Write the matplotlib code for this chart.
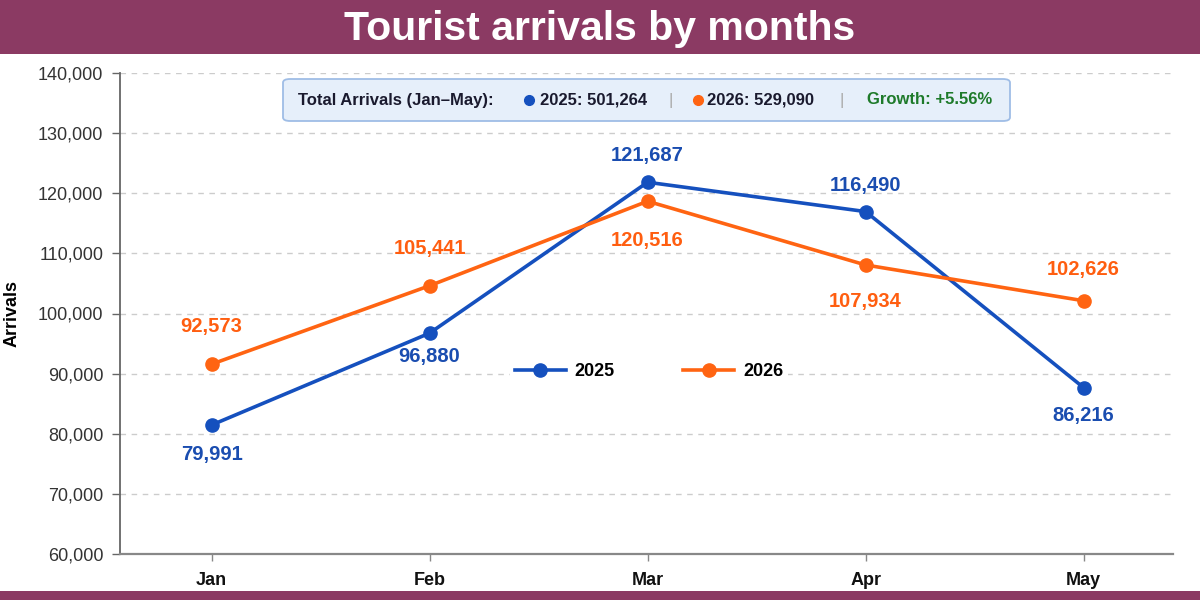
import matplotlib
matplotlib.use("Agg")
import matplotlib.pyplot as plt
from matplotlib import font_manager
from matplotlib.patches import FancyBboxPatch, Rectangle
from matplotlib.lines import Line2D

# ---------------- data ----------------
months = ["Jan", "Feb", "Mar", "Apr", "May"]
values_2025 = [81450, 96730, 121830, 116950, 87670]      # drawn point positions
values_2026 = [91570, 104620, 118670, 108070, 102120]
labels_2025 = [79991, 96880, 121687, 116490, 86216]      # printed data labels
labels_2026 = [92573, 105441, 120516, 107934, 102626]
yticks = [60000, 70000, 80000, 90000, 100000, 110000, 120000, 130000, 140000]
total_2025 = 501264
total_2026 = 529090
growth_pct = 5.56
title = "Tourist arrivals by months"

# ---------------- style ----------------
names = {f.name for f in font_manager.fontManager.ttflist}
NARROW = "Liberation Sans Narrow" if "Liberation Sans Narrow" in names else "Liberation Sans"
SANS = "Liberation Sans"
plt.rcParams["font.family"] = [SANS, "DejaVu Sans"]

PURPLE = "#8B3A63"
BLUE = "#1550BE"
ORANGE = "#FF6412"
BLUE_TXT = "#1A4DB0"
ORANGE_TXT = "#FF5E10"

fig = plt.figure(figsize=(12, 6), dpi=100)
fig.patch.set_facecolor("white")

# header / footer bands
fig.add_artist(Rectangle((0, 1 - 54 / 600), 1, 54 / 600, transform=fig.transFigure,
                         facecolor=PURPLE, edgecolor="none", zorder=0))
fig.add_artist(Rectangle((0, 0), 1, 9 / 600, transform=fig.transFigure,
                         facecolor=PURPLE, edgecolor="none", zorder=0))
fig.text(0.5, 1 - 40 / 600, title, ha="center", va="baseline", color="white",
         fontsize=29.5, fontweight="bold", family=[NARROW, "DejaVu Sans"])

ax = fig.add_axes([120 / 1200, 1 - 554 / 600, (1173 - 120) / 1200, (554 - 73) / 600])
x = list(range(len(months)))

ax.set_xlim(-0.42, 4.41)
ax.set_ylim(60000, 140000)
ax.set_yticks(yticks)
ax.set_yticklabels([f"{v:,}" for v in yticks], fontsize=13, color="#333333")
ax.set_xticks(x)
ax.set_xticklabels(months, fontsize=13, fontweight="bold", color="#111111",
                   family=[NARROW, "DejaVu Sans"])
ax.tick_params(axis="y", length=6, width=1, color="#666666", pad=6)
ax.tick_params(axis="x", length=5, width=1, color="#888888", pad=8)

for s in ["top", "right"]:
    ax.spines[s].set_visible(False)
ax.spines["left"].set_color("#666666")
ax.spines["left"].set_linewidth(1.3)
ax.spines["bottom"].set_color("#888888")
ax.spines["bottom"].set_linewidth(1.6)

ax.grid(axis="y", color="#cccccc", linestyle=(0, (4, 4)), linewidth=1)
ax.set_axisbelow(True)
ax.set_ylabel("Arrivals", fontsize=13, fontweight="bold")
ax.yaxis.set_label_coords(-0.094, 0.5)

l1, = ax.plot(x, values_2025, color=BLUE, lw=2.6, marker="o", ms=9.5, label="2025", zorder=3)
l2, = ax.plot(x, values_2026, color=ORANGE, lw=2.6, marker="o", ms=9.5, label="2026", zorder=3)

# data labels (pixel offsets: positive = up)
off_2025 = [-29, -23, 27, 26, -28]
off_2026 = [38, 37, -39, -37, 31]
for i in x:
    ax.annotate(f"{labels_2025[i]:,}", (x[i], values_2025[i]), xytext=(0, off_2025[i]),
                textcoords="offset pixels", ha="center", va="center", color=BLUE_TXT,
                fontsize=14.5, fontweight="bold", family=[NARROW, "DejaVu Sans"], zorder=4)
    ax.annotate(f"{labels_2026[i]:,}", (x[i], values_2026[i]), xytext=(0, off_2026[i]),
                textcoords="offset pixels", ha="center", va="center", color=ORANGE_TXT,
                fontsize=14.5, fontweight="bold", family=[NARROW, "DejaVu Sans"], zorder=4)

leg = ax.legend(handles=[l1, l2], loc="center", bbox_to_anchor=(649 / 1200, 1 - 372 / 600),
                bbox_transform=fig.transFigure, ncol=2, frameon=True, facecolor="white",
                edgecolor="none", framealpha=1, handlelength=2.8, columnspacing=3.8,
                handletextpad=0.5, borderpad=0.3,
                prop={"weight": "bold", "size": 13, "family": [NARROW, "DejaVu Sans"]})
leg.set_zorder(5)

# summary box
bx0, by0, bx1, by1 = 283, 79, 1010, 121
fig.add_artist(FancyBboxPatch((bx0 / 1200, 1 - by1 / 600), (bx1 - bx0) / 1200, (by1 - by0) / 600,
                              boxstyle="round,pad=0,rounding_size=0.006", transform=fig.transFigure,
                              facecolor="#E6EFFA", edgecolor="#9FBDE6", linewidth=1.3, zorder=6))
ty = 1 - 100 / 600
tk = dict(va="center", fontsize=12, fontweight="bold", family=[NARROW, "DejaVu Sans"], zorder=7)
fig.text(298 / 1200, ty, "Total Arrivals (Jan\u2013May):", color="#1a1a2e", ha="left", **tk)
fig.add_artist(Line2D([529 / 1200], [ty], marker="o", ms=7, color=BLUE, transform=fig.transFigure, zorder=7))
fig.text(540 / 1200, ty, f"2025: {total_2025:,}", color="#1a1a2e", ha="left", **tk)
fig.text(671 / 1200, ty, "|", color="#aaaaaa", ha="center", va="center", fontsize=12, zorder=7)
fig.add_artist(Line2D([698 / 1200], [ty], marker="o", ms=7, color=ORANGE, transform=fig.transFigure, zorder=7))
fig.text(707 / 1200, ty, f"2026: {total_2026:,}", color="#1a1a2e", ha="left", **tk)
fig.text(842 / 1200, ty, "|", color="#aaaaaa", ha="center", va="center", fontsize=12, zorder=7)
fig.text(867 / 1200, ty, f"Growth: +{growth_pct:.2f}%", color="#1E7A2A", ha="left", **tk)

fig.savefig("out.png", dpi=100, facecolor="white")
